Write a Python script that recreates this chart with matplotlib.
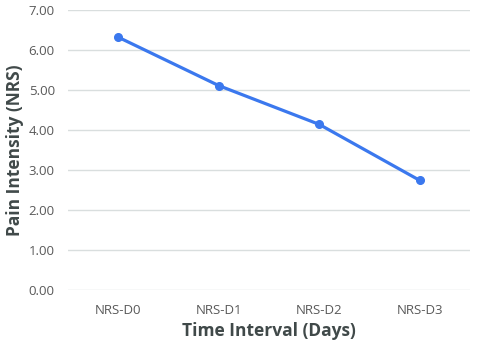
import matplotlib
matplotlib.use("Agg")
import matplotlib.pyplot as plt

categories = ["NRS-D0", "NRS-D1", "NRS-D2", "NRS-D3"]
pain_scores = [6.32, 5.11, 4.14, 2.74]
y_ticks = [0, 1, 2, 3, 4, 5, 6, 7]

plt.rcParams["font.family"] = ["Open Sans", "DejaVu Sans"]

fig = plt.figure(figsize=(4.79, 3.51), dpi=100)
ax = fig.add_axes([68 / 479, 1 - 290 / 351, 402 / 479, 280 / 351])

x = range(len(categories))
ax.plot(x, pain_scores, color="#3B78EE", linewidth=2.3, marker="o",
        markersize=5.5, zorder=3)

ax.set_xlim(-0.5, len(categories) - 0.5)
ax.set_ylim(0, 7)
ax.set_yticks(y_ticks)
ax.set_yticklabels([f"{v:.2f}" for v in y_ticks])
ax.set_xticks(list(x))
ax.set_xticklabels(categories)

ax.grid(axis="y", color="#D9DEDE", linewidth=1)
ax.set_axisbelow(True)
for s in ax.spines.values():
    s.set_visible(False)
ax.tick_params(length=0, labelsize=9.5, colors="#595959")
ax.tick_params(axis="y", pad=9.5)
ax.tick_params(axis="x", pad=10)

ax.set_xlabel("Time Interval (Days)", fontsize=12.5, fontweight="bold",
              color="#404949", labelpad=4)
ax.set_ylabel("Pain Intensity (NRS)", fontsize=12.5, fontweight="bold",
              color="#404949")
ax.yaxis.set_label_coords(-44 / 402, 0.5)

fig.savefig("out.png", dpi=100)
